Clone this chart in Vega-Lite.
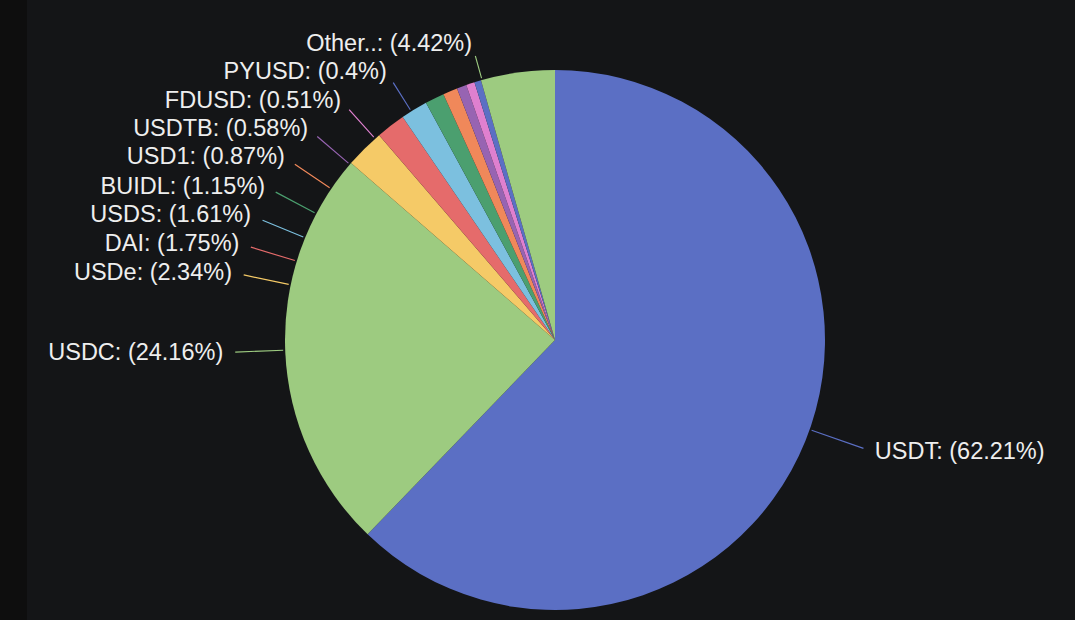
{
  "$schema": "https://vega.github.io/schema/vega-lite/v6.json",
  "width": 1056,
  "height": 680,
  "autosize": "none",
  "padding": {"left": 27, "top": 0, "right": -8, "bottom": -60},
  "background": "#0e0e0e",
  "view": {"fill": "#141517", "stroke": null},
  "config": {"text": {"font": "Liberation Sans"}},
  "data": {"values": [
    {"name": "USDT", "value": 62.21, "label": "USDT: (62.21%)"},
    {"name": "USDC", "value": 24.16, "label": "USDC: (24.16%)"},
    {"name": "USDe", "value": 2.34, "label": "USDe: (2.34%)"},
    {"name": "DAI", "value": 1.75, "label": "DAI: (1.75%)"},
    {"name": "USDS", "value": 1.61, "label": "USDS: (1.61%)"},
    {"name": "BUIDL", "value": 1.15, "label": "BUIDL: (1.15%)"},
    {"name": "USD1", "value": 0.87, "label": "USD1: (0.87%)"},
    {"name": "USDTB", "value": 0.58, "label": "USDTB: (0.58%)"},
    {"name": "FDUSD", "value": 0.51, "label": "FDUSD: (0.51%)"},
    {"name": "PYUSD", "value": 0.4, "label": "PYUSD: (0.4%)"},
    {"name": "Other", "value": 4.42, "label": "Other..: (4.42%)"}
  ]},
  "transform": [{"window": [{"op": "row_number", "as": "idx"}]}],
  "layer": [
    {
      "mark": {"type": "arc", "radius": 270, "stroke": null},
      "encoding": {
        "theta": {"field": "value", "type": "quantitative", "stack": true},
        "order": {"field": "idx", "type": "quantitative"},
        "color": {"field": "name", "type": "nominal", "legend": null,
          "scale": {"domain": ["USDT","USDC","USDe","DAI","USDS","BUIDL","USD1","USDTB","FDUSD","PYUSD","Other"],
                    "range": ["#5b6fc4","#9dcb80","#f5ca67","#e56b6b","#7cc0df","#4b9f6f","#f0885a","#9764b2","#df80cf","#5b6fc4","#9dcb80"]}}
      }
    },
    {
      "mark": {"type": "arc", "radius2": 272, "thetaOffset": -0.002, "theta2Offset": 0.002, "stroke": null},
      "encoding": {
        "theta": {"field": "idx", "type": "quantitative", "stack": null,
          "scale": {"type": "linear", "zero": false, "nice": false, "domain": [1,2,3,4,5,6,7,8,9,10,11],
                    "range": [1.9089,4.6747,4.9183,5.0087,5.1011,5.1992,5.3067,5.4205,5.5540,5.7221,6.0097]}},
        "theta2": {"field": "idx"},
        "radius": {"field": "idx", "type": "quantitative",
          "scale": {"type": "linear", "zero": false, "nice": false, "domain": [1,2,3,4,5,6,7,8,9,10,11],
                    "range": [327,320,318,318,316,316,314,313,309,304,295]}},
        "color": {"field": "name", "type": "nominal", "legend": null,
          "scale": {"domain": ["USDT","USDC","USDe","DAI","USDS","BUIDL","USD1","USDTB","FDUSD","PYUSD","Other"],
                    "range": ["#5b6fc4","#9dcb80","#f5ca67","#e56b6b","#7cc0df","#4b9f6f","#f0885a","#9764b2","#df80cf","#5b6fc4","#9dcb80"]}}
      }
    },
    {
      "transform": [{"filter": "datum.name !== 'USDT'"}],
      "mark": {"type": "text", "align": "right", "baseline": "middle", "fontSize": 23.5, "color": "#eeeeee"},
      "encoding": {
        "theta": {"field": "idx", "type": "quantitative", "stack": null,
          "scale": {"type": "linear", "zero": false, "nice": false, "domain": [1,2,3,4,5,6,7,8,9,10,11],
                    "range": [1.9089,4.6747,4.9183,5.0087,5.1011,5.1992,5.3067,5.4205,5.5540,5.7221,6.0097]}},
        "radius": {"field": "idx", "type": "quantitative",
          "scale": {"type": "linear", "zero": false, "nice": false, "domain": [1,2,3,4,5,6,7,8,9,10,11],
                    "range": [339,332,330,330,328.5,328,326,325,321,316,307]}},
        "text": {"field": "label", "type": "nominal"}
      }
    },
    {
      "transform": [{"filter": "datum.name === 'USDT'"}],
      "mark": {"type": "text", "align": "left", "baseline": "middle", "fontSize": 23.5, "color": "#eeeeee"},
      "encoding": {
        "theta": {"field": "idx", "type": "quantitative", "stack": null,
          "scale": {"type": "linear", "zero": false, "nice": false, "domain": [1,2,3,4,5,6,7,8,9,10,11],
                    "range": [1.9089,4.6747,4.9183,5.0087,5.1011,5.1992,5.3067,5.4205,5.5540,5.7221,6.0097]}},
        "radius": {"field": "idx", "type": "quantitative",
          "scale": {"type": "linear", "zero": false, "nice": false, "domain": [1,2,3,4,5,6,7,8,9,10,11],
                    "range": [339,332,330,330,328.5,328,326,325,321,316,307]}},
        "text": {"field": "label", "type": "nominal"}
      }
    }
  ],
  "resolve": {"scale": {"theta": "independent", "radius": "independent"}}
}
